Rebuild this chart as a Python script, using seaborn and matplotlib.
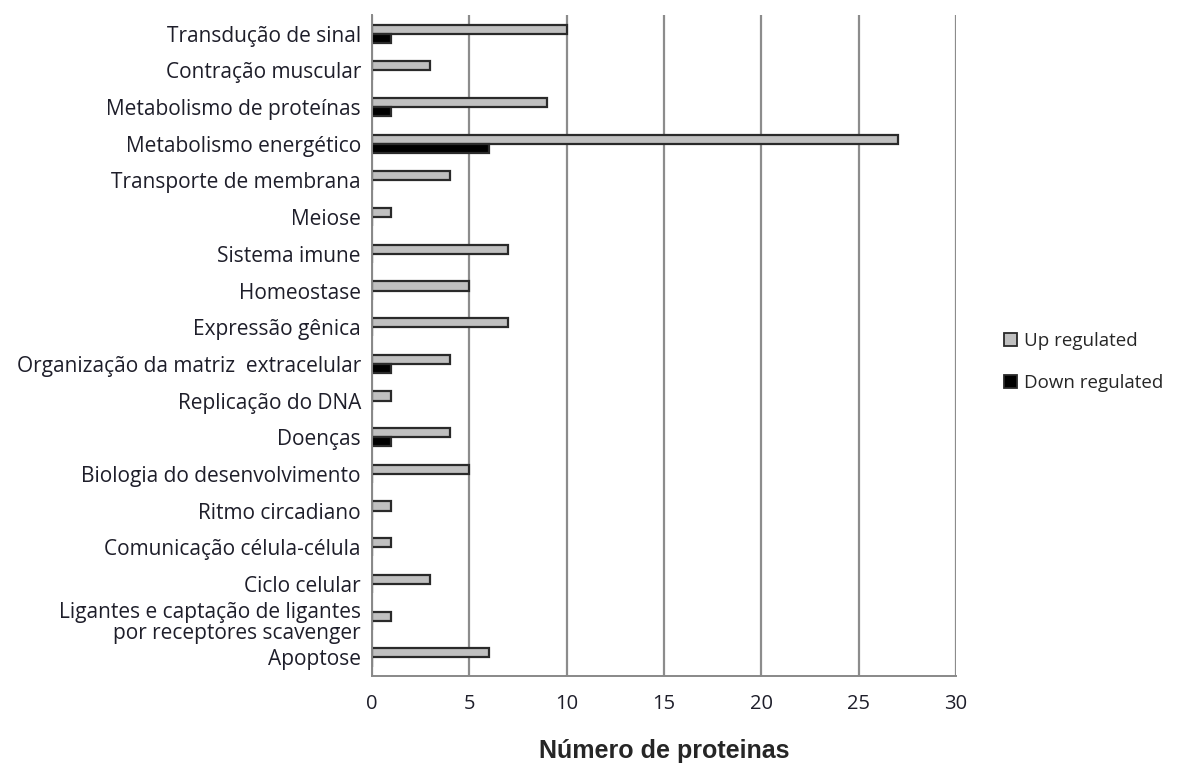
import pandas as pd
import numpy as np
import matplotlib.pyplot as plt
import seaborn as sns
from matplotlib.patches import Patch

categorias = ['Transdução de sinal', 'Contração muscular', 'Metabolismo de proteínas',
              'Metabolismo energético', 'Transporte de membrana', 'Meiose', 'Sistema imune',
              'Homeostase', 'Expressão gênica', 'Organização da matriz  extracelular',
              'Replicação do DNA', 'Doenças', 'Biologia do desenvolvimento', 'Ritmo circadiano',
              'Comunicação célula-célula', 'Ciclo celular',
              'Ligantes e captação de ligantes\npor receptores scavenger', 'Apoptose']
up = [10, 3, 9, 27, 4, 1, 7, 5, 7, 4, 1, 4, 5, 1, 1, 3, 1, 6]
down = [1, 0, 1, 6, 0, 0, 0, 0, 0, 1, 0, 1, 0, 0, 0, 0, 0, 0]
series = ['Up regulated', 'Down regulated']
cores = ['#c0c0c0', '#000000']

df = pd.DataFrame({'categoria': categorias * 2,
                   'valor': up + down,
                   'serie': [series[0]] * len(up) + [series[1]] * len(down)})

sns.set_style('white')
plt.rcParams['font.family'] = ['Open Sans', 'DejaVu Sans']

fig = plt.figure(figsize=(11.81, 7.67), dpi=100)
ax = fig.add_axes([0.315, 0.119, 0.4945, 0.861])

sns.barplot(data=df, y='categoria', x='valor', hue='serie', orient='h',
            order=categorias, hue_order=series, palette=cores, width=0.5,
            edgecolor='#2a2a2a', linewidth=1.6, ax=ax, legend=False)

ax.set_xlim(0, 30)
ax.set_ylim(len(categorias) - 0.5, -0.5)
ax.set_xticks(range(0, 31, 5))
ax.xaxis.grid(True, color='#8c8c8c', linewidth=1.6)
ax.set_axisbelow(True)
for s in ['top', 'right']:
    ax.spines[s].set_visible(False)
for s in ['left', 'bottom']:
    ax.spines[s].set_color('#888888')
    ax.spines[s].set_linewidth(1.4)

# rotulos das categorias, com marcas entre elas
ax.tick_params(axis='y', length=0, labelsize=15, pad=8, labelcolor='#1e1e2a')
for t in ax.get_yticklabels():
    t.set_linespacing(1.0)
ax.set_yticks(np.arange(-0.5, len(categorias), 1), minor=True)
ax.tick_params(axis='y', which='minor', length=5, color='#888888', width=1.3)
ax.tick_params(axis='x', length=5, color='#888888', width=1.3, labelsize=14.5, pad=8,
               labelcolor='#1e1e2a')

ax.set_ylabel('')
ax.set_xlabel('Número de proteinas', fontsize=18, fontweight='bold',
              family=['Liberation Sans', 'DejaVu Sans'], labelpad=18)

handles = [Patch(facecolor=c, edgecolor='#2a2a2a', linewidth=1.3) for c in cores]
fig.legend(handles, series, loc='center left', bbox_to_anchor=(0.836, 0.528),
           frameon=False, fontsize=13.5, handlelength=0.7, handleheight=0.7,
           handletextpad=0.35, labelspacing=1.3)

fig.savefig('out.png', dpi=100)
